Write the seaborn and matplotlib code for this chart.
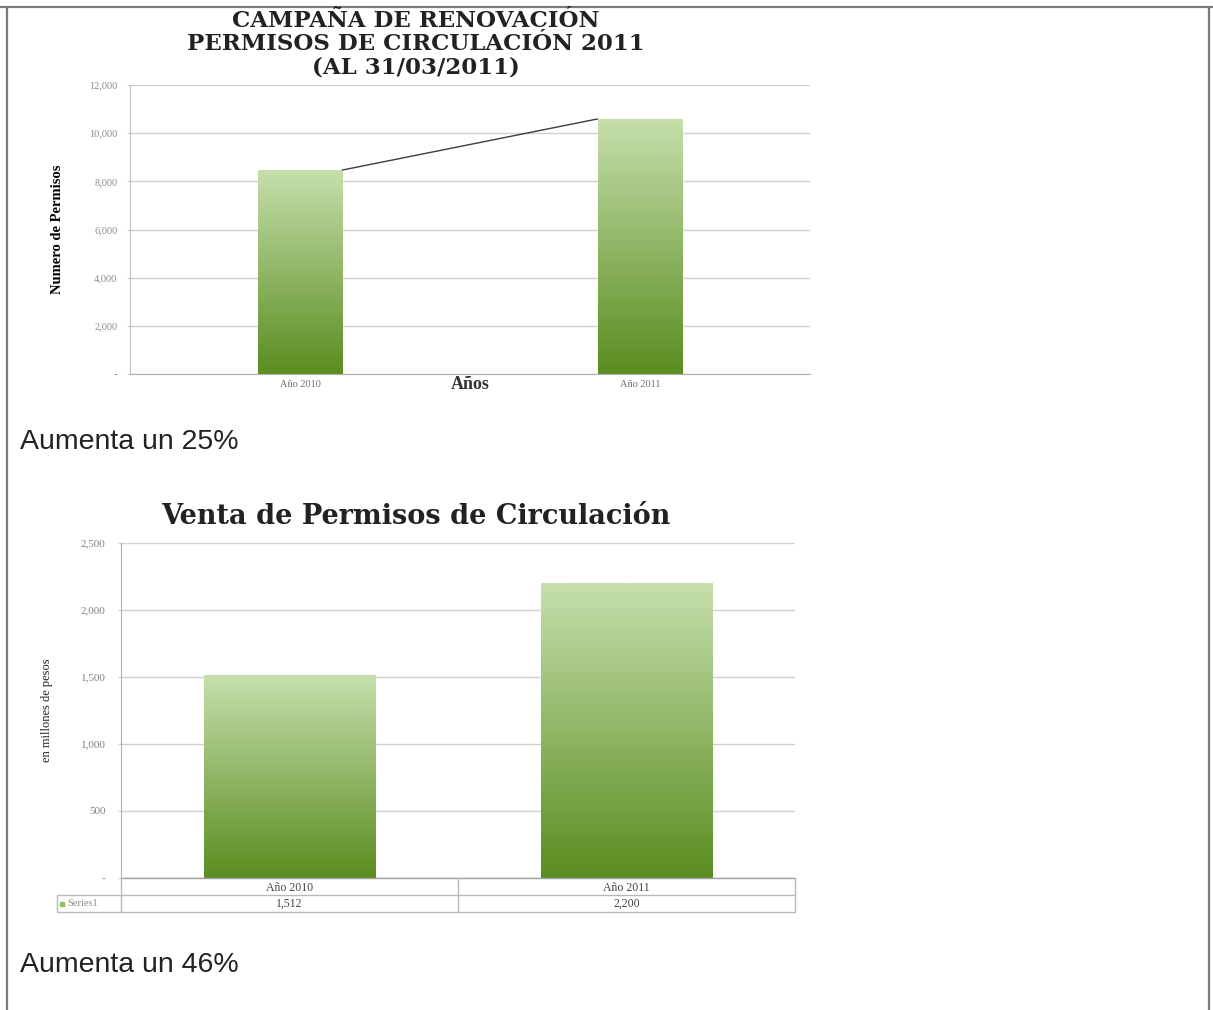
import numpy as np
import pandas as pd
import matplotlib
matplotlib.use('Agg')
import matplotlib.pyplot as plt
import seaborn as sns
from matplotlib.colors import to_rgb
from matplotlib.lines import Line2D
from matplotlib.ticker import FuncFormatter
from matplotlib.transforms import blended_transform_factory

# ---------------- data ----------------
categories = ['Año 2010', 'Año 2011']
permisos = [8470, 10590]
ventas = [1512, 2200]
title1_lines = ['CAMPAÑA DE RENOVACIÓN', 'PERMISOS DE CIRCULACIÓN 2011', '(AL 31/03/2011)']
title2 = 'Venta de Permisos de Circulación'
ylabel1 = 'Numero de Permisos'
xlabel1 = 'Años'
ylabel2 = 'en millones de pesos'
series_name = 'Series1'
note1 = 'Aumenta un 25%'
note2 = 'Aumenta un 46%'
yticks1 = [0, 2000, 4000, 6000, 8000, 10000, 12000]
yticks2 = [0, 500, 1000, 1500, 2000, 2500]

sns.set_style('white')
plt.rcParams['font.family'] = ['Liberation Serif', 'DejaVu Serif']

W, H = 1213, 1010
fig = plt.figure(figsize=(W / 100, H / 100), dpi=100)
fig.patch.set_facecolor('white')


def fx(px):
    return px / W


def fy(py):
    return 1 - py / H


ax1 = fig.add_axes([fx(130), fy(374), fx(810) - fx(130), fy(85) - fy(374)])
ax2 = fig.add_axes([fx(121), fy(878), fx(795) - fx(121), fy(543) - fy(878)])

top_c = np.array(to_rgb('#c6dfac'))
bot_c = np.array(to_rgb('#5a8d20'))
grad = np.linspace(bot_c, top_c, 256)[:, None, :]


def fill_gradient(ax):
    for p in list(ax.patches):
        x, w, h = p.get_x(), p.get_width(), p.get_height()
        im = ax.imshow(grad, extent=[x, x + w, 0, h], origin='lower',
                       aspect='auto', zorder=p.get_zorder() + 0.1,
                       interpolation='bilinear')
        im.set_clip_path(p)


fmt = FuncFormatter(lambda v, _: '-' if v == 0 else f'{int(v):,}')

# ---------------- chart 1 ----------------
df1 = pd.DataFrame({'cat': categories, 'val': permisos})
sns.barplot(data=df1, x='cat', y='val', ax=ax1, width=0.25, color='#8fbf5f',
            saturation=1, edgecolor='none')
fill_gradient(ax1)
p0, p1 = ax1.patches[0], ax1.patches[1]
ax1.plot([p0.get_x() + p0.get_width(), p1.get_x()],
         [p0.get_height(), p1.get_height()], color='#3a3a48', lw=1, zorder=5)
ax1.set_xlim(-0.5, 1.5)
ax1.set_ylim(0, 12000)
ax1.set_yticks(yticks1)
ax1.yaxis.set_major_formatter(fmt)
ax1.set_axisbelow(True)
ax1.yaxis.grid(True, color='#d0d0d0', linewidth=1)
ax1.xaxis.grid(False)
for s in ['top', 'right']:
    ax1.spines[s].set_visible(False)
ax1.spines['left'].set_color('#bdbdbd')
ax1.spines['bottom'].set_color('#b0b0b0')
ax1.tick_params(axis='y', labelsize=7.5, labelcolor='#8a8a8a', color='#cccccc',
                length=2, pad=7, left=True)
ax1.tick_params(axis='x', labelsize=7.5, labelcolor='#707070', length=0, pad=4)
ax1.set_xlabel(xlabel1, fontsize=13, fontweight='bold', color='#333333')
ax1.xaxis.label.set_va('center')
ax1.xaxis.set_label_coords(0.5, -0.038)
ax1.set_ylabel(ylabel1, fontsize=10.5, fontweight='bold', color='black')
ax1.yaxis.label.set_va('center')
ax1.yaxis.set_label_coords(-0.107, 0.5)

for i, (line, yy) in enumerate(zip(title1_lines, [21, 44, 67])):
    fig.text(fx(416), fy(yy), line, ha='center', va='center', fontsize=16.5,
             fontweight='bold', family='DejaVu Serif', color='#222222')

# ---------------- chart 2 ----------------
df2 = pd.DataFrame({'cat': categories, 'val': ventas})
sns.barplot(data=df2, x='cat', y='val', ax=ax2, width=0.51, color='#8fbf5f',
            saturation=1, edgecolor='none')
fill_gradient(ax2)
ax2.set_xlim(-0.5, 1.5)
ax2.set_ylim(0, 2500)
ax2.set_yticks(yticks2)
ax2.yaxis.set_major_formatter(fmt)
ax2.set_axisbelow(True)
ax2.yaxis.grid(True, color='#cfcfd6', linewidth=1)
ax2.xaxis.grid(False)
for s in ['top', 'right', 'bottom']:
    ax2.spines[s].set_visible(False)
ax2.spines['left'].set_color('#b0b0b0')
ax2.tick_params(axis='y', labelsize=8, labelcolor='#808080', color='#cccccc',
                length=2, pad=9, left=True)
ax2.tick_params(axis='x', labelsize=8.5, labelcolor='#444444', length=0, pad=3)
ax2.set_xlabel('')
ax2.set_ylabel(ylabel2, fontsize=9, color='#222222')
ax2.yaxis.label.set_va('center')
ax2.yaxis.set_label_coords(-0.110, 0.5)

# data table under chart 2
row_h = 17 / 335
x_left = (57 - 121) / 674
tc = '#b8b8b8'
ax2.plot([0, 1], [0, 0], transform=ax2.transAxes, color='#a0a0a0', lw=1, clip_on=False)
for yy in [-row_h, -2 * row_h]:
    ax2.plot([x_left, 1], [yy, yy], transform=ax2.transAxes, color=tc, lw=1, clip_on=False)
ax2.plot([x_left, x_left], [-row_h, -2 * row_h], transform=ax2.transAxes, color=tc, lw=1, clip_on=False)
for xx in [0, 0.5, 1]:
    ax2.plot([xx, xx], [0, -2 * row_h], transform=ax2.transAxes, color=tc, lw=1, clip_on=False)
btr = blended_transform_factory(ax2.transData, ax2.transAxes)
for i, v in enumerate(ventas):
    ax2.text(i, -1.5 * row_h, f'{v:,}', transform=btr, ha='center', va='center',
             fontsize=8.5, color='#444444', clip_on=False)
ax2.plot([(62 - 121) / 674], [-1.5 * row_h], transform=ax2.transAxes, marker='s',
         markersize=3, color='#8fbf5f', clip_on=False, linestyle='none')
ax2.text((67 - 121) / 674, -1.5 * row_h, series_name, transform=ax2.transAxes,
         ha='left', va='center', fontsize=7.5, color='#8a8a8a', clip_on=False)

fig.text(fx(416), fy(517), title2, ha='center', va='center', fontsize=19.5,
         fontweight='bold', family='DejaVu Serif', color='#222222')

# notes
fig.text(fx(20), fy(442), note1, ha='left', va='center', fontsize=20.5,
         family='Liberation Sans', color='#222222')
fig.text(fx(20), fy(965), note2, ha='left', va='center', fontsize=20.5,
         family='Liberation Sans', color='#222222')

# page frame
fc = '#7a7a7a'
fig.add_artist(Line2D([0, 1], [fy(7), fy(7)], transform=fig.transFigure, color=fc, lw=1.6))
fig.add_artist(Line2D([fx(7), fx(7)], [fy(7), 0], transform=fig.transFigure, color=fc, lw=1.6))
fig.add_artist(Line2D([fx(1209), fx(1209)], [fy(7), 0], transform=fig.transFigure, color=fc, lw=1.6))

fig.savefig('out.png', dpi=100, facecolor='white')
